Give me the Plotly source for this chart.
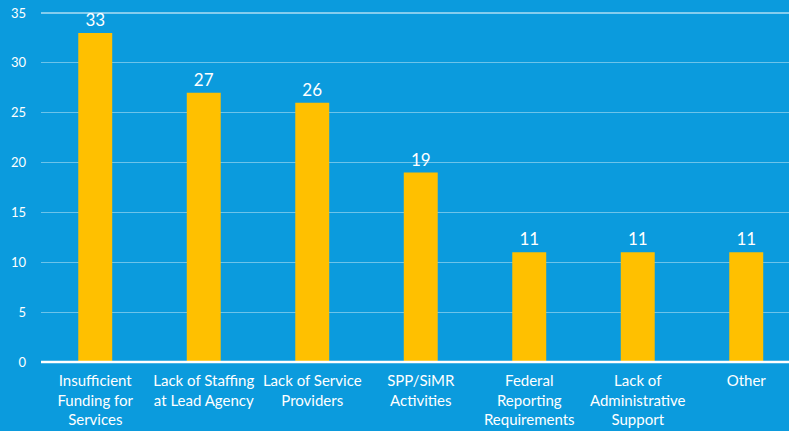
import plotly.graph_objects as go

# --------------------------------------------------------------------------- #
#  Data
# --------------------------------------------------------------------------- #
categories = [
    "Insufficient<br>Funding for<br>Services",
    "Lack of Staffing<br>at Lead Agency",
    "Lack of Service<br>Providers",
    "SPP/SiMR<br>Activities",
    "Federal<br>Reporting<br>Requirements",
    "Lack of<br>Administrative<br>Support",
    "Other",
]
counts = [33, 27, 26, 19, 11, 11, 11]
y_ticks = [0, 5, 10, 15, 20, 25, 30, 35]

BG = "#0b9bdd"
BAR = "#ffc000"
FONT = "Lato, Open Sans, sans-serif"

fig = go.Figure(
    go.Bar(
        x=categories,
        y=counts,
        marker=dict(color=BAR, line=dict(width=0)),
        text=counts,
        textposition="outside",
        textfont=dict(color="white", size=17, family=FONT),
        cliponaxis=False,
    )
)

# bright frame lines: thin along the top, heavier baseline at the bottom
frame = [
    dict(type="line", xref="paper", yref="paper", x0=0, x1=1, y0=1, y1=1,
         line=dict(color="white", width=1), layer="above"),
    dict(type="line", xref="paper", yref="paper", x0=0, x1=1, y0=0, y1=0,
         line=dict(color="white", width=2.5), layer="above"),
]

fig.update_layout(
    width=789,
    height=431,
    margin=dict(l=41, r=0, t=13, b=69),
    paper_bgcolor=BG,
    plot_bgcolor=BG,
    bargap=0.687,
    showlegend=False,
    font=dict(family=FONT, color="white"),
    shapes=frame,
)

# the last category runs slightly past the right edge in the original
fig.update_xaxes(
    range=[-0.5, 6.394],
    tickfont=dict(size=15, color="white"),
    showline=False,
    ticks="",
    ticklabelstandoff=8,
)
fig.update_yaxes(
    range=[0, 35],
    tickvals=y_ticks,
    tickfont=dict(size=13, color="white"),
    showgrid=True,
    gridcolor="rgba(255,255,255,0.4)",
    gridwidth=1,
    zeroline=False,
    ticklabelstandoff=14,
    ticks="",
)

# drop the page's default body margin so the figure fills the window
fig.write_html(
    "out.html",
    config={"displayModeBar": False},
    post_script="document.body.style.margin='0';",
)
